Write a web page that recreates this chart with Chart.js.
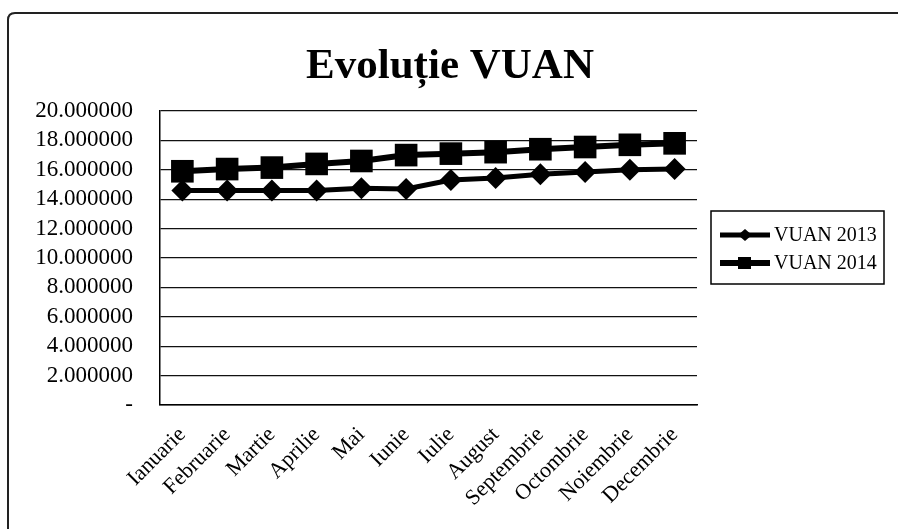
<!DOCTYPE html>
<html>
<head>
<meta charset="utf-8">
<title>Evoluție VUAN</title>
<script src="https://cdn.jsdelivr.net/npm/chart.js@4/dist/chart.umd.min.js"></script>
<style>
  html, body { margin: 0; padding: 0; background: #fff; }
  #wrap { width: 898px; height: 529px; position: relative; }
</style>
</head>
<body>
<div id="wrap"><canvas id="vuan-chart"></canvas></div>
<script>
(function () {
    "use strict";

    // Data (millions)
    var months = ["Ianuarie", "Februarie", "Martie", "Aprilie", "Mai", "Iunie",
                  "Iulie", "August", "Septembrie", "Octombrie", "Noiembrie", "Decembrie"];
    var vuan2013 = [14.6, 14.6, 14.6, 14.6, 14.75, 14.7, 15.3, 15.45, 15.7, 15.85, 16.0, 16.05];
    var vuan2014 = [15.9, 16.05, 16.15, 16.4, 16.6, 17.0, 17.1, 17.2, 17.4, 17.55, 17.7, 17.8];
    var seriesNames = ["VUAN 2013", "VUAN 2014"];
    var chartTitle = "Evoluție VUAN";

    var serif = "'Liberation Serif', 'Times New Roman', serif";

    // Frame round the whole chart, title, boxed legend on the right
    var frameAndLegend = {
        id: 'frameAndLegend',
        beforeDraw: function (chart) {
            var ctx = chart.ctx;
            ctx.save();
            ctx.strokeStyle = '#222';
            ctx.lineWidth = 2;
            ctx.beginPath();
            ctx.moveTo(8, 540);
            ctx.lineTo(8, 20);
            ctx.quadraticCurveTo(8, 13, 15, 13);
            ctx.lineTo(905, 13);
            ctx.stroke();
            ctx.restore();
        },
        afterDraw: function (chart) {
            var ctx = chart.ctx;
            ctx.save();
            // title
            ctx.fillStyle = '#000';
            ctx.font = 'bold 43px ' + serif;
            ctx.textAlign = 'center';
            ctx.textBaseline = 'alphabetic';
            ctx.fillText(chartTitle, 450, 78);

            // legend
            ctx.textAlign = 'left';
            ctx.strokeStyle = '#000';
            ctx.lineWidth = 1.5;
            ctx.strokeRect(711, 211, 173, 73);
            chart.data.datasets.forEach(function (ds, i) {
                var y = 235 + i * 28;
                ctx.strokeStyle = '#000';
                ctx.lineWidth = ds.borderWidth;
                ctx.beginPath();
                ctx.moveTo(720, y);
                ctx.lineTo(770, y);
                ctx.stroke();
                ctx.fillStyle = '#000';
                if (ds.pointStyle === 'rect') {
                    ctx.fillRect(738, y - 6, 13, 12);
                } else {
                    ctx.beginPath();
                    ctx.moveTo(745, y - 6);
                    ctx.lineTo(752, y);
                    ctx.lineTo(745, y + 6);
                    ctx.lineTo(738, y);
                    ctx.closePath();
                    ctx.fill();
                }
                ctx.font = '20px ' + serif;
                ctx.textBaseline = 'middle';
                ctx.fillText(ds.label, 774, y + 1);
            });
            ctx.restore();
        }
    };

    var ctx = document.getElementById('vuan-chart').getContext('2d');
    var myChart = new Chart(ctx, {
        type: 'line',
        data: {
            labels: months,
            datasets: [{
                label: seriesNames[0],
                data: vuan2013,
                borderColor: '#000',
                backgroundColor: '#000',
                borderWidth: 5,
                pointStyle: 'rectRot',
                pointRadius: 11,
                pointBorderWidth: 0,
                tension: 0
            }, {
                label: seriesNames[1],
                data: vuan2014,
                borderColor: '#000',
                backgroundColor: '#000',
                borderWidth: 6,
                pointStyle: 'rect',
                pointRadius: 16,
                pointBorderWidth: 0,
                tension: 0
            }]
        },
        options: {
            responsive: true,
            maintainAspectRatio: false,
            animation: false,
            layout: {
                padding: { top: 111, left: 0, right: 201, bottom: 0 }
            },
            plugins: {
                legend: { display: false },
                tooltip: { enabled: false },
                title: { display: false }
            },
            scales: {
                x: {
                    offset: true,
                    afterFit: function (scale) { scale.height = 124; },
                    grid: { display: false, drawTicks: false },
                    border: { display: true, color: '#000', width: 1.5 },
                    ticks: {
                        color: '#000',
                        font: { family: serif, size: 22 },
                        maxRotation: 45,
                        minRotation: 45,
                        padding: 17,
                        autoSkip: false
                    }
                },
                y: {
                    min: 0,
                    max: 20,
                    afterFit: function (scale) { scale.width = 160; },
                    grid: { color: '#111', lineWidth: 1.2, drawTicks: false },
                    border: { display: true, color: '#000', width: 1.5 },
                    ticks: {
                        stepSize: 2,
                        autoSkip: false,
                        color: '#000',
                        padding: 27,
                        font: { family: serif, size: 23, lineHeight: 1 },
                        callback: function (v) { return v === 0 ? '-' : v.toFixed(6); }
                    }
                }
            }
        },
        plugins: [frameAndLegend]
    });
})();
</script>
</body>
</html>
